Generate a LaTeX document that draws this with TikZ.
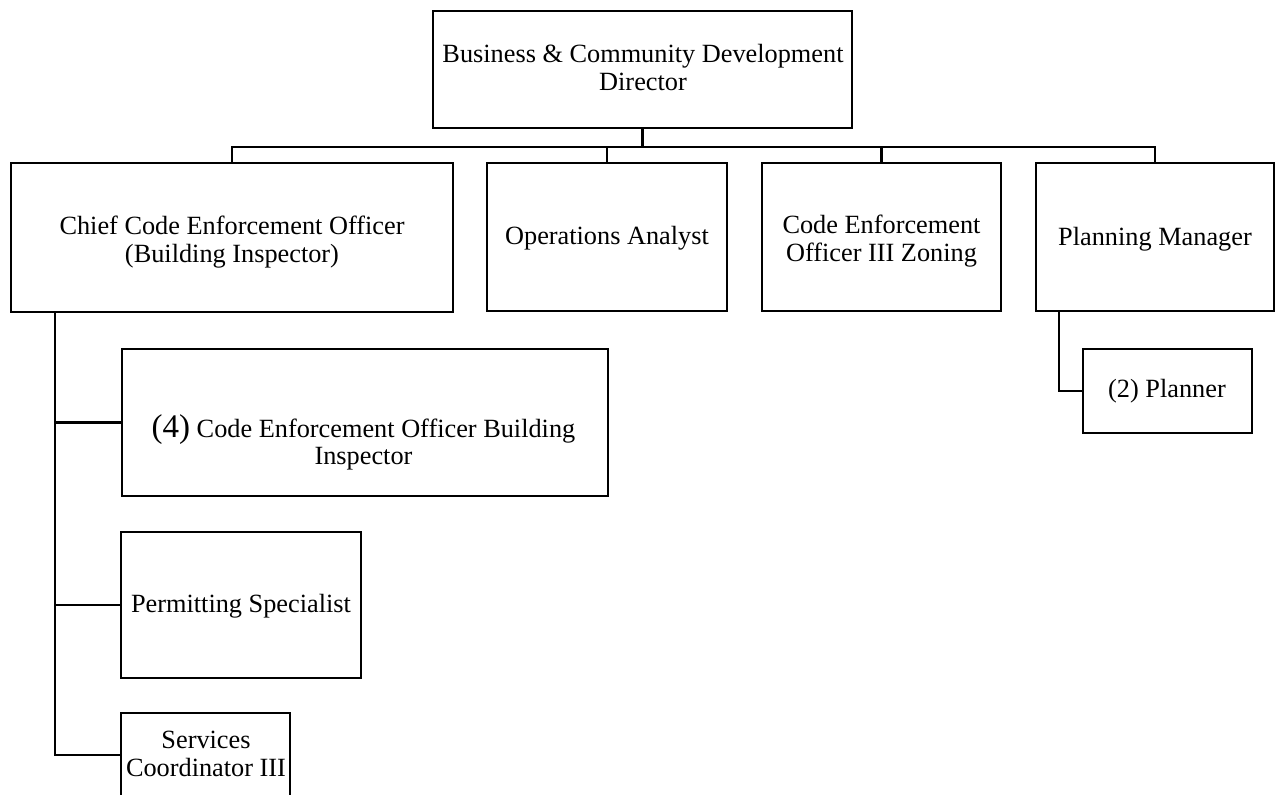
\documentclass[tikz,border=0pt]{standalone}
\usepackage{fontspec}
\setmainfont{Liberation Serif}
\usetikzlibrary{calc}
\tikzset{
  box/.style={draw=black, line width=2.4pt, rectangle, inner sep=0pt, fill=white},
  txt/.style={align=center, inner sep=0pt, font=\fontsize{26.3}{28}\selectfont},
  conn/.style={draw=black, line width=2.4pt}
}
\begin{document}
\begin{tikzpicture}[x=1pt, y=-1pt]
\useasboundingbox (0,0) rectangle (1275,795);
\clip (0,0) rectangle (1275,795);
% boxes
\node[box, minimum width=419pt, minimum height=117pt] (dir) at (642.5,69.5) {};
\node[box, minimum width=442pt, minimum height=149pt] (chief) at (232,237.5) {};
\node[box, minimum width=240pt, minimum height=148pt] (ops) at (607,237) {};
\node[box, minimum width=239pt, minimum height=148pt] (ceo3) at (881.5,237) {};
\node[box, minimum width=238pt, minimum height=148pt] (pm) at (1155,237) {};
\node[box, minimum width=486pt, minimum height=147pt] (ceob) at (365,422.5) {};
\node[box, minimum width=240pt, minimum height=146pt] (perm) at (241,605) {};
\node[box, minimum width=169pt, minimum height=84pt] (planner) at (1167.5,391) {};
\node[box, minimum width=169pt, minimum height=84pt] (serv) at (205.5,755) {};
% texts
\node[txt] (tdir) at (643,68) {Business \& Community Development\\Director};
\node[txt] (tchief) at (232,242) {Chief Code Enforcement Officer\\(Building Inspector)};
\node[txt] (tops) at (607,238) {Operations Analyst};
\node[txt] (tceo3) at (881.5,241) {Code Enforcement\\Officer III Zoning};
\node[txt] (tpm) at (1155,239) {Planning Manager};
\node[txt, font=\fontsize{26.3}{27}\selectfont] (tceob) at (363.5,442.3) {{\fontsize{33}{27}\selectfont (4)} Code Enforcement Officer Building\\Inspector};
\node[txt] (tperm) at (241,606) {Permitting Specialist};
\node[txt] (tplanner) at (1167,391.4) {(2) Planner};
\node[txt] (tserv) at (206,753.5) {Services\\Coordinator III};
% connectors
\draw[conn] (dir.south) -- ++(0,18) coordinate (bus);
\draw[conn] (bus) -| (chief.north);
\draw[conn] (bus) -| (ops.north);
\draw[conn] (bus) -| (ceo3.north);
\draw[conn] (bus) -| (pm.north);
\coordinate (cs) at ($(chief.south west)+(45,0)$);
\draw[conn] (cs) |- (ceob.west);
\draw[conn] (cs) |- (perm.west);
\draw[conn] (cs) |- (serv.west);
\coordinate (ps) at ($(pm.south west)+(24,0)$);
\draw[conn] (ps) |- (planner.west);
\end{tikzpicture}
\end{document}
